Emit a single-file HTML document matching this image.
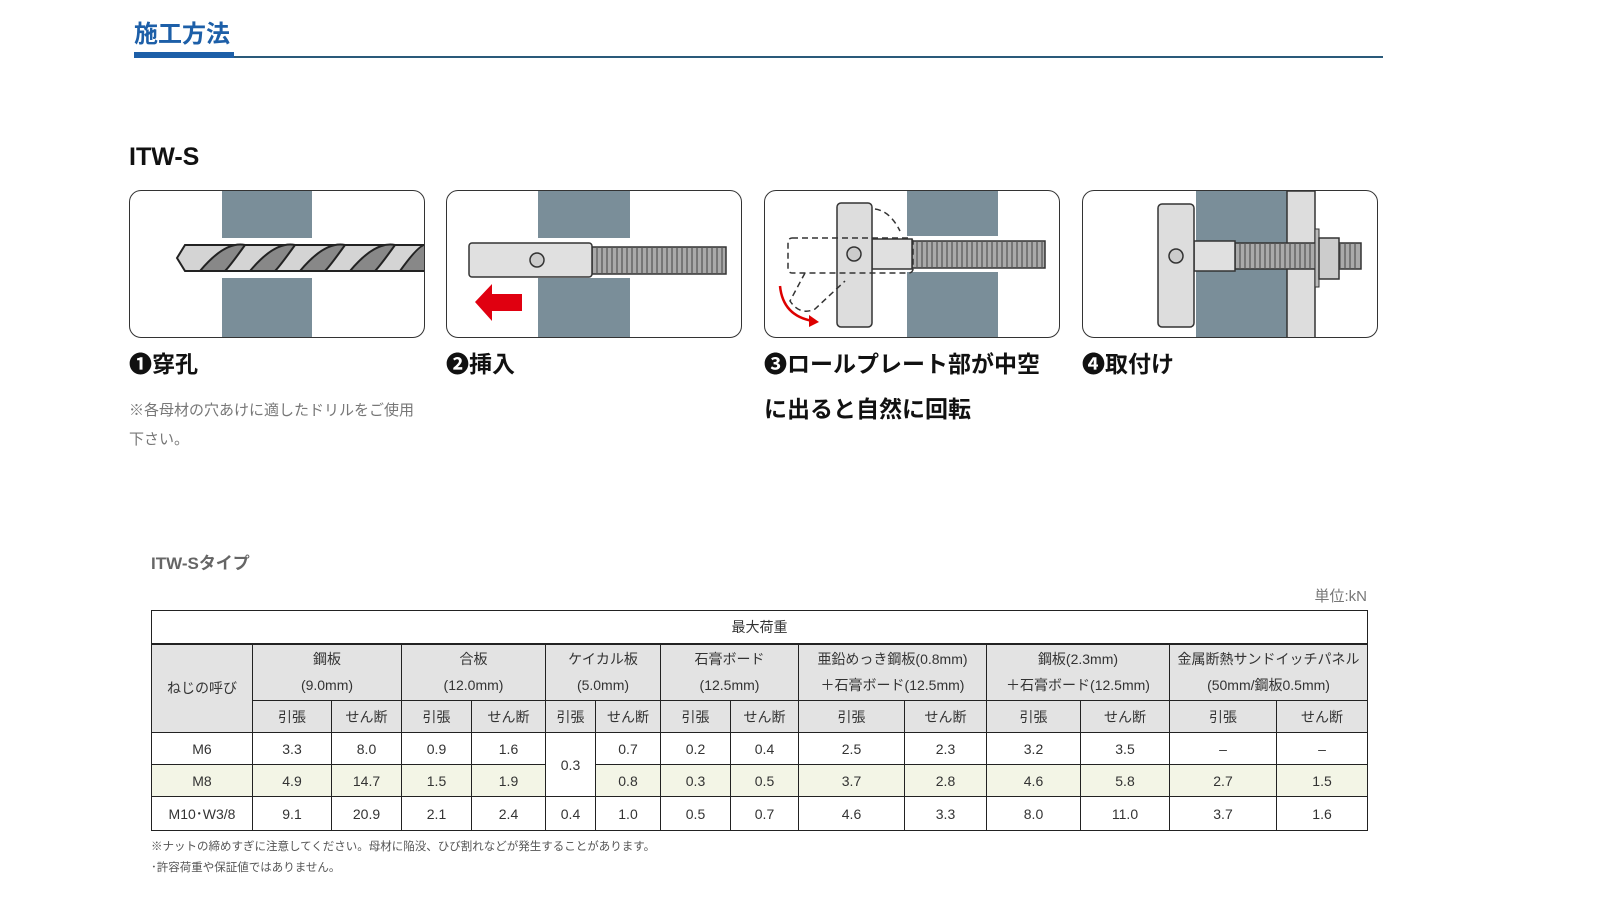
<!DOCTYPE html>
<html><head><meta charset="utf-8"><style>
*{margin:0;padding:0;box-sizing:border-box}
body{width:1615px;height:918px;background:#fff;position:relative;overflow:hidden;font-family:"Liberation Sans","Noto Sans CJK JP",sans-serif;color:#222}
.a{position:absolute;white-space:nowrap}
.panel{position:absolute;top:190px;width:296px;height:148px;border:1.5px solid #333;border-radius:12px;overflow:hidden;background:#fff}
.lbl{font-size:23px;font-weight:bold;color:#111}
table{position:absolute;left:151px;top:610px;width:1216px;border-collapse:collapse;font-size:14px;color:#333;table-layout:fixed}
td{border:1px solid #222;text-align:center;padding:0;line-height:26px}
.h td{background:#e3e3e3}
.g td{background:#f3f5e6}
</style></head><body>
<div class="a" style="left:134px;top:14px;font-size:24px;font-weight:bold;color:#1d5fa8">施工方法</div>
<div class="a" style="left:134px;top:52px;width:100px;height:6px;background:#1d5fa8"></div>
<div class="a" style="left:234px;top:56px;width:1149px;height:1.5px;background:#2a5a7a"></div>
<div class="a" style="left:129px;top:143px;font-size:25px;font-weight:bold;color:#111">ITW-S</div>

<div class="panel" style="left:129px">
<svg width="296" height="148">
<rect x="92" y="0" width="90" height="47" fill="#7a8e99"/><rect x="92" y="87" width="90" height="61" fill="#7a8e99"/>
<path d="M47 67 L55 54 L296 54 L296 80 L55 80 Z" fill="#d4d4d4" stroke="#222" stroke-width="2"/>
<g stroke="#222" stroke-width="2" fill="#888"><path d="M70 80 Q95 50 115 54 Q100 75 95 80Z"/><path d="M120 80 Q145 50 165 54 Q150 75 145 80Z"/><path d="M170 80 Q195 50 215 54 Q200 75 195 80Z"/><path d="M220 80 Q245 50 265 54 Q250 75 245 80Z"/><path d="M270 80 Q290 52 296 54 L296 80Z"/></g>
</svg></div>

<div class="panel" style="left:446px">
<svg width="296" height="148">
<rect x="91" y="0" width="92" height="148" fill="#7a8e99"/>
<rect x="91" y="47" width="92" height="40" fill="#fff"/>
<rect x="145" y="56" width="134" height="27" fill="#aaa" stroke="#333" stroke-width="1.5"/>
<g stroke="#555" stroke-width="1.2"><path d="M150 56V83M155 56V83M160 56V83M165 56V83M170 56V83M175 56V83M180 56V83M185 56V83M190 56V83M195 56V83M200 56V83M205 56V83M210 56V83M215 56V83M220 56V83M225 56V83M230 56V83M235 56V83M240 56V83M245 56V83M250 56V83M255 56V83M260 56V83M265 56V83M270 56V83M275 56V83"/></g>
<rect x="22" y="52" width="123" height="34" rx="3" fill="#e0e0e0" stroke="#333" stroke-width="1.5"/>
<circle cx="90" cy="69" r="7" fill="#ccc" stroke="#333" stroke-width="1.5"/>
<path d="M28 111 L45 93 L45 103 L75 103 L75 120 L45 120 L45 130 Z" fill="#e00010"/>
</svg></div>

<div class="panel" style="left:764px">
<svg width="296" height="148">
<rect x="142" y="0" width="91" height="148" fill="#7a8e99"/>
<rect x="142" y="45" width="91" height="36" fill="#fff"/>
<rect x="147" y="50" width="133" height="27" fill="#aaa" stroke="#333" stroke-width="1.5"/>
<g stroke="#555" stroke-width="1.2"><path d="M152 50V77M157 50V77M162 50V77M167 50V77M172 50V77M177 50V77M182 50V77M187 50V77M192 50V77M197 50V77M202 50V77M207 50V77M212 50V77M217 50V77M222 50V77M227 50V77M232 50V77M237 50V77M242 50V77M247 50V77M252 50V77M257 50V77M262 50V77M267 50V77M272 50V77M277 50V77"/></g>
<rect x="107" y="48" width="40" height="30" fill="#e0e0e0" stroke="#333" stroke-width="1.5"/>
<rect x="72" y="12" width="35" height="124" rx="4" fill="#ddd" stroke="#333" stroke-width="1.5"/>
<circle cx="89" cy="63" r="7" fill="#ccc" stroke="#333" stroke-width="1.5"/>
<g fill="none" stroke="#333" stroke-width="1.5" stroke-dasharray="6 4"><rect x="23" y="47" width="125" height="35" rx="4"/><path d="M110 18 Q125 20 135 40 M40 82 L25 110 Q35 125 50 118 L80 90"/></g>
<path d="M15 95 Q18 125 48 130" fill="none" stroke="#d00" stroke-width="2.5"/><path d="M44 124 L54 131 L44 136Z" fill="#d00"/>
</svg></div>

<div class="panel" style="left:1082px">
<svg width="296" height="148">
<rect x="113" y="0" width="91" height="148" fill="#7a8e99"/>
<rect x="204" y="0" width="28" height="148" fill="#ddd" stroke="#333" stroke-width="1.5"/>
<rect x="152" y="52" width="126" height="26" fill="#aaa" stroke="#333" stroke-width="1.5"/>
<g stroke="#555" stroke-width="1.2"><path d="M157 52V78M162 52V78M167 52V78M172 52V78M177 52V78M182 52V78M187 52V78M192 52V78M197 52V78M202 52V78M207 52V78M212 52V78M217 52V78M222 52V78M227 52V78M232 52V78M237 52V78M242 52V78M247 52V78M252 52V78M257 52V78M262 52V78M267 52V78M272 52V78"/></g>
<rect x="111" y="50" width="41" height="30" fill="#e0e0e0" stroke="#333" stroke-width="1.5"/>
<rect x="75" y="13" width="36" height="123" rx="4" fill="#ddd" stroke="#333" stroke-width="1.5"/>
<circle cx="93" cy="65" r="7" fill="#ccc" stroke="#333" stroke-width="1.5"/>
<rect x="232" y="38" width="4" height="58" fill="#bbb" stroke="#333"/>
<rect x="236" y="47" width="20" height="41" fill="#ccc" stroke="#333" stroke-width="1.5"/>
</svg></div>

<div class="a lbl" style="left:129px;top:345px">❶穿孔</div>
<div class="a lbl" style="left:446px;top:345px">❷挿入</div>
<div class="a lbl" style="left:764px;top:345px">❸ロールプレート部が中空</div>
<div class="a lbl" style="left:764px;top:390px">に出ると自然に回転</div>
<div class="a lbl" style="left:1082px;top:345px">❹取付け</div>
<div class="a" style="left:129px;top:399px;font-size:15px;color:#777">※各母材の穴あけに適したドリルをご使用</div>
<div class="a" style="left:129px;top:428px;font-size:15px;color:#777">下さい。</div>

<div class="a" style="left:151px;top:549px;font-size:17px;font-weight:bold;color:#666">ITW-Sタイプ</div>
<div class="a" style="left:1300px;top:585px;width:67px;text-align:right;font-size:15px;color:#777">単位:kN</div>

<table>
<colgroup><col style="width:101px"><col style="width:79px"><col style="width:70px"><col style="width:70px"><col style="width:74px"><col style="width:50px"><col style="width:65px"><col style="width:70px"><col style="width:68px"><col style="width:106px"><col style="width:82px"><col style="width:94px"><col style="width:89px"><col style="width:107px"><col style="width:91px"></colgroup>
<tr style="height:33px"><td colspan="15" style="border-bottom:2px solid #222">最大荷重</td></tr>
<tr class="h" style="height:57px"><td rowspan="2">ねじの呼び</td><td colspan="2">鋼板<br>(9.0mm)</td><td colspan="2">合板<br>(12.0mm)</td><td colspan="2">ケイカル板<br>(5.0mm)</td><td colspan="2">石膏ボード<br>(12.5mm)</td><td colspan="2">亜鉛めっき鋼板(0.8mm)<br>＋石膏ボード(12.5mm)</td><td colspan="2">鋼板(2.3mm)<br>＋石膏ボード(12.5mm)</td><td colspan="2">金属断熱サンドイッチパネル<br>(50mm/鋼板0.5mm)</td></tr>
<tr class="h" style="height:32px"><td>引張</td><td>せん断</td><td>引張</td><td>せん断</td><td>引張</td><td>せん断</td><td>引張</td><td>せん断</td><td>引張</td><td>せん断</td><td>引張</td><td>せん断</td><td>引張</td><td>せん断</td></tr>
<tr style="height:32px"><td>M6</td><td>3.3</td><td>8.0</td><td>0.9</td><td>1.6</td><td rowspan="2" style="background:#fff">0.3</td><td>0.7</td><td>0.2</td><td>0.4</td><td>2.5</td><td>2.3</td><td>3.2</td><td>3.5</td><td>–</td><td>–</td></tr>
<tr class="g" style="height:32px"><td>M8</td><td>4.9</td><td>14.7</td><td>1.5</td><td>1.9</td><td>0.8</td><td>0.3</td><td>0.5</td><td>3.7</td><td>2.8</td><td>4.6</td><td>5.8</td><td>2.7</td><td>1.5</td></tr>
<tr style="height:34px"><td>M10･W3/8</td><td>9.1</td><td>20.9</td><td>2.1</td><td>2.4</td><td>0.4</td><td>1.0</td><td>0.5</td><td>0.7</td><td>4.6</td><td>3.3</td><td>8.0</td><td>11.0</td><td>3.7</td><td>1.6</td></tr>
</table>
<div class="a" style="left:151px;top:838px;font-size:11.5px;color:#555">※ナットの締めすぎに注意してください。母材に陥没、ひび割れなどが発生することがあります。</div>
<div class="a" style="left:151px;top:859px;font-size:11.5px;color:#555">･許容荷重や保証値ではありません。</div>
</body></html>
